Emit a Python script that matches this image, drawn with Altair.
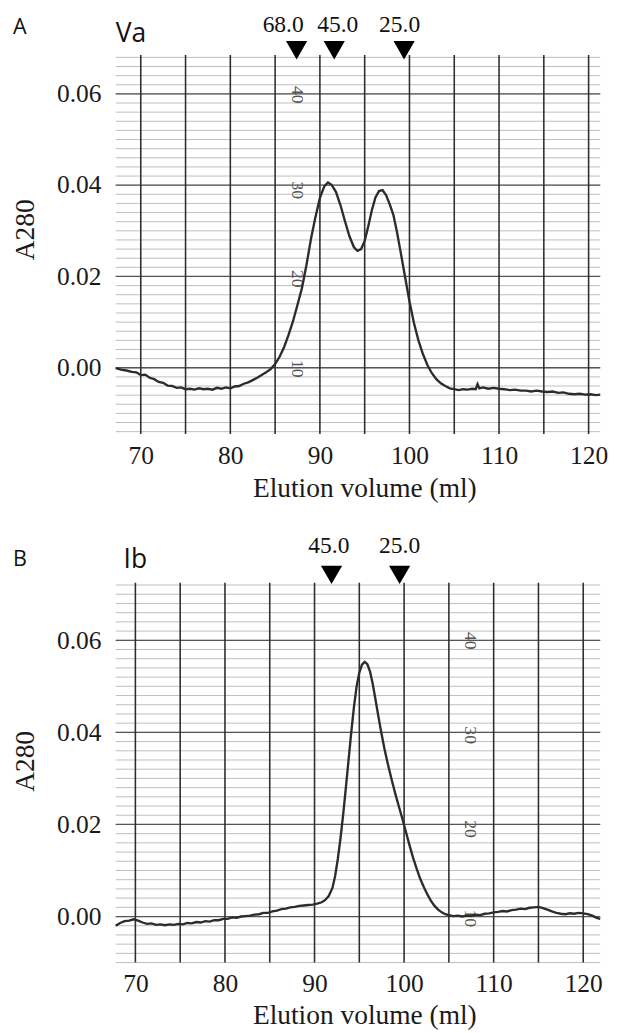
import altair as alt
import pandas as pd

# ---------------- Panel A (Va) ----------------
a_ml = [67.2, 67.8, 68.4, 69.0, 69.5, 70.0, 70.5, 71.0, 71.5, 72.0, 72.5, 73.0, 73.5, 74.0,
        74.5, 75.0, 75.5, 76.0, 76.5, 77.0, 77.5, 78.0, 78.5, 79.0, 79.5, 80.0, 80.5, 81.0,
        81.5, 82.0, 82.5, 83.0, 83.5, 84.0, 84.5, 85.0, 85.5, 86.0, 86.5, 87.0, 87.5, 88.0,
        88.5, 89.0, 89.5, 90.0, 90.5, 90.9, 91.3, 91.8, 92.3, 92.8, 93.3, 93.8, 94.2, 94.6,
        95.0, 95.4, 95.8, 96.2, 96.6, 97.0, 97.4, 97.8, 98.2, 98.6, 99.0, 99.5, 100.0, 100.5,
        101.0, 101.5, 102.0, 102.5, 103.0, 103.5, 104.0, 104.5, 105.0, 105.5, 106.0, 106.5,
        107.0, 107.4, 107.6, 107.8, 108.2, 108.8, 109.4, 110.0, 110.6, 111.2, 111.8, 112.4,
        113.0, 113.6, 114.2, 114.8, 115.4, 116.0, 116.6, 117.2, 117.8, 118.4, 119.0, 119.6,
        120.2, 120.8, 121.3]
a_abs = [-0.0001, -0.0004, -0.0006, -0.0009, -0.0010, -0.0016, -0.0015, -0.0022, -0.0025,
         -0.0031, -0.0033, -0.0039, -0.0040, -0.0044, -0.0043, -0.0047, -0.0046, -0.0048,
         -0.0045, -0.0047, -0.0046, -0.0048, -0.0044, -0.0046, -0.0043, -0.0045, -0.0041,
         -0.0040, -0.0035, -0.0032, -0.0027, -0.0022, -0.0016, -0.0010, -0.0003, 0.0008,
         0.0024, 0.0045, 0.0072, 0.0102, 0.0138, 0.0175, 0.0225, 0.0282, 0.0330, 0.0372,
         0.0398, 0.0406, 0.0401, 0.0385, 0.0356, 0.0321, 0.0288, 0.0264, 0.0256, 0.0260,
         0.0278, 0.0310, 0.0345, 0.0373, 0.0387, 0.0389, 0.0378, 0.0358, 0.0335, 0.0298,
         0.0255, 0.0200, 0.0145, 0.0098, 0.0060, 0.0030, 0.0006, -0.0012, -0.0025, -0.0034,
         -0.0040, -0.0045, -0.0047, -0.0049, -0.0047, -0.0048, -0.0046, -0.0047, -0.0036,
         -0.0045, -0.0043, -0.0046, -0.0044, -0.0046, -0.0047, -0.0049, -0.0048, -0.0050,
         -0.0050, -0.0052, -0.0050, -0.0052, -0.0053, -0.0052, -0.0055, -0.0054, -0.0057,
         -0.0058, -0.0057, -0.0059, -0.0058, -0.0060, -0.0059]

a_marker_ml = [87.4, 91.6, 99.4]
a_marker_label_ml = [85.9, 92.0, 98.9]
a_marker_label = ["68.0", "45.0", "25.0"]
a_paper_ml = [87.4, 87.4, 87.4, 87.4]
a_paper_y = [0.0598, 0.0389, 0.0195, -0.0002]

# ---------------- Panel B (Ib) ----------------
b_ml = [67.8, 68.3, 68.8, 69.3, 69.8, 70.3, 70.8, 71.3, 71.8, 72.3, 72.8, 73.3, 73.8, 74.3,
        74.8, 75.3, 75.8, 76.3, 76.8, 77.3, 77.8, 78.3, 78.8, 79.3, 79.8, 80.3, 80.8, 81.3,
        81.8, 82.3, 82.8, 83.3, 83.8, 84.3, 84.8, 85.3, 85.8, 86.3, 86.8, 87.3, 87.8, 88.3,
        88.8, 89.3, 89.8, 90.3, 90.8, 91.2, 91.6, 92.0, 92.3, 92.6, 92.9, 93.2, 93.5, 93.8,
        94.1, 94.4, 94.7, 95.0, 95.3, 95.6, 95.9, 96.2, 96.5, 96.8, 97.1, 97.4, 97.8, 98.2,
        98.6, 99.0, 99.4, 99.8, 100.2, 100.6, 101.0, 101.4, 101.8, 102.2, 102.6, 103.0,
        103.4, 103.8, 104.2, 104.6, 105.0, 105.5, 106.0, 106.5, 107.0, 107.5, 108.0, 108.5,
        109.0, 109.5, 110.0, 110.5, 111.0, 111.5, 112.0, 112.5, 113.0, 113.5, 114.0, 114.5,
        115.0, 115.5, 116.0, 116.5, 117.0, 117.5, 118.0, 118.5, 119.0, 119.5, 120.0, 120.5,
        121.0, 121.5, 121.9]
b_abs = [-0.0020, -0.0014, -0.0010, -0.0009, -0.0006, -0.0009, -0.0013, -0.0016, -0.0015,
         -0.0018, -0.0017, -0.0019, -0.0017, -0.0018, -0.0016, -0.0017, -0.0014, -0.0015,
         -0.0012, -0.0013, -0.0010, -0.0011, -0.0008, -0.0008, -0.0005, -0.0005, -0.0002,
         -0.0003, 0.0000, 0.0001, 0.0002, 0.0004, 0.0005, 0.0008, 0.0008, 0.0011, 0.0013,
         0.0016, 0.0017, 0.0020, 0.0021, 0.0023, 0.0024, 0.0025, 0.0026, 0.0028, 0.0031,
         0.0036, 0.0045, 0.0062, 0.0088, 0.0125, 0.0170, 0.0222, 0.0280, 0.0340, 0.0400,
         0.0455, 0.0500, 0.0530, 0.0547, 0.0553, 0.0548, 0.0532, 0.0505, 0.0472, 0.0438,
         0.0405, 0.0365, 0.0330, 0.0298, 0.0268, 0.0240, 0.0213, 0.0184, 0.0155, 0.0128,
         0.0104, 0.0082, 0.0064, 0.0048, 0.0034, 0.0023, 0.0015, 0.0009, 0.0005, 0.0003,
         0.0001, 0.0002, 0.0000, 0.0002, 0.0001, 0.0004, 0.0003, 0.0006, 0.0007, 0.0009,
         0.0010, 0.0012, 0.0011, 0.0014, 0.0015, 0.0017, 0.0016, 0.0019, 0.0020, 0.0021,
         0.0018, 0.0015, 0.0011, 0.0008, 0.0006, 0.0005, 0.0007, 0.0006, 0.0008, 0.0007,
         0.0005, 0.0002, -0.0003, -0.0005]

b_marker_ml = [91.9, 99.5]
b_marker_label_ml = [91.6, 99.5]
b_marker_label = ["45.0", "25.0"]
b_paper_ml = [107.3, 107.3, 107.3, 107.3]
b_paper_y = [0.0599, 0.0394, 0.0190, -0.0004]

# ---------------- shared ----------------
paper_label = ["40", "30", "20", "10"]
x_ticks = [70, 80, 90, 100, 110, 120]
y_ticks = [0.00, 0.02, 0.04, 0.06]
v_grid = [70, 75, 80, 85, 90, 95, 100, 105, 110, 115, 120]
panel_letter = ["A", "B"]
panel_name = ["Va", "Ib"]
x_title = "Elution volume (ml)"
y_title = "A280"

SERIF = "Liberation Serif"
SANS = "Open Sans"


def panel(ml, ab, xdom, ydom, mk_ml, mk_lbl_ml, mk_lbl, pp_ml, pp_y, letter, name,
          h, ytitle_y, tri_y, lbl_y, name_x, name_y, letter_y, xtitle_y):
    xs = alt.Scale(domain=xdom, nice=False, zero=False)
    ys = alt.Scale(domain=ydom, nice=False, zero=False)
    common = dict(labelFont=SERIF, labelFontSize=26, labelColor="#1a1a1a", titleFont=SERIF,
                  titleFontSize=28, titleFontWeight="normal", titleColor="#1a1a1a",
                  domain=False, ticks=False, grid=False)
    xax = alt.Axis(values=x_ticks, format="d", labelPadding=9, titleX=254, titleY=xtitle_y,
                   titleBaseline="alphabetic", **common)
    yax = alt.Axis(values=y_ticks, format=".2f", labelPadding=15, titleX=-84,
                   titleY=ytitle_y, titleAngle=270, titleBaseline="alphabetic",
                   titleAlign="center", **common)
    X = lambda f: alt.X(f, scale=xs, axis=xax, title=x_title)
    Y = lambda f: alt.Y(f, scale=ys, axis=yax, title=y_title)

    lo, hi = ydom
    n0 = int(round(lo / 0.002))
    n1 = int(round(hi / 0.002))
    minor = [round(i * 0.002, 4) for i in range(n0, n1 + 1)]

    minor_df = pd.DataFrame({"v": minor})
    major_df = pd.DataFrame({"v": y_ticks})
    vg_df = pd.DataFrame({"ml": v_grid})
    line_df = pd.DataFrame({"ml": ml, "v": ab})
    mk_df = pd.DataFrame({"ml": mk_ml})
    mkl_df = pd.DataFrame({"ml": mk_lbl_ml, "t": mk_lbl})
    pp_df = pd.DataFrame({"ml": pp_ml, "v": pp_y, "t": paper_label})
    let_df = pd.DataFrame({"t": [letter]})
    name_df = pd.DataFrame({"t": [name]})

    minor_l = alt.Chart(minor_df).mark_rule(color="#bdbdbd", strokeWidth=1).encode(y=Y("v:Q"))
    major_l = alt.Chart(major_df).mark_rule(color="#555555", strokeWidth=1.3).encode(y=Y("v:Q"))
    vg_l = alt.Chart(vg_df).mark_rule(color="#2e2e2e", strokeWidth=1.6).encode(x=X("ml:Q"))
    pp_l = alt.Chart(pp_df).mark_text(font=SERIF, fontSize=18, color="#555555", angle=90,
                                      align="center", baseline="middle").encode(
        x=X("ml:Q"), y=Y("v:Q"), text="t:N")
    line_l = alt.Chart(line_df).mark_line(color="#2c2c2c", strokeWidth=2.4).encode(
        x=X("ml:Q"), y=Y("v:Q"))
    tri_l = alt.Chart(mk_df).mark_point(shape="triangle-down", filled=True, size=470,
                                        color="black", opacity=1).encode(
        x=X("ml:Q"), y=alt.value(tri_y))
    mkl_l = alt.Chart(mkl_df).mark_text(font=SERIF, fontSize=24, color="#111",
                                        baseline="alphabetic", align="center").encode(
        x=X("ml:Q"), y=alt.value(lbl_y), text="t:N")
    let_l = alt.Chart(let_df).mark_text(font=SANS, fontSize=22, color="#111",
                                        baseline="alphabetic", align="left").encode(
        x=alt.value(-105), y=alt.value(letter_y), text="t:N")
    name_l = alt.Chart(name_df).mark_text(font=SANS, fontSize=27, color="#111",
                                          baseline="alphabetic", align="left").encode(
        x=alt.value(name_x), y=alt.value(name_y), text="t:N")

    return alt.layer(minor_l, major_l, vg_l, pp_l, line_l, tri_l, mkl_l, let_l, name_l).properties(
        width=495, height=h)


chart_a = panel(a_ml, a_abs, [67.2, 121.3], [-0.0145, 0.0685], a_marker_ml, a_marker_label_ml,
                a_marker_label, a_paper_ml, a_paper_y, panel_letter[0], panel_name[0],
                387, 178, -5, -24, 0, -13, -22, 64)
chart_b = panel(b_ml, b_abs, [67.8, 121.9], [-0.0100, 0.0725], b_marker_ml, b_marker_label_ml,
                b_marker_label, b_paper_ml, b_paper_y, panel_letter[1], panel_name[1],
                388, 182, -8, -30, 8, -15, -17, 62)

chart = alt.vconcat(chart_a, chart_b, spacing=33).properties(
    padding={"left": 4, "top": -6, "right": 4, "bottom": 0},
    background="white"
).configure_view(stroke=None)

chart.save("out.html", embed_options={"renderer": "svg", "actions": False})
